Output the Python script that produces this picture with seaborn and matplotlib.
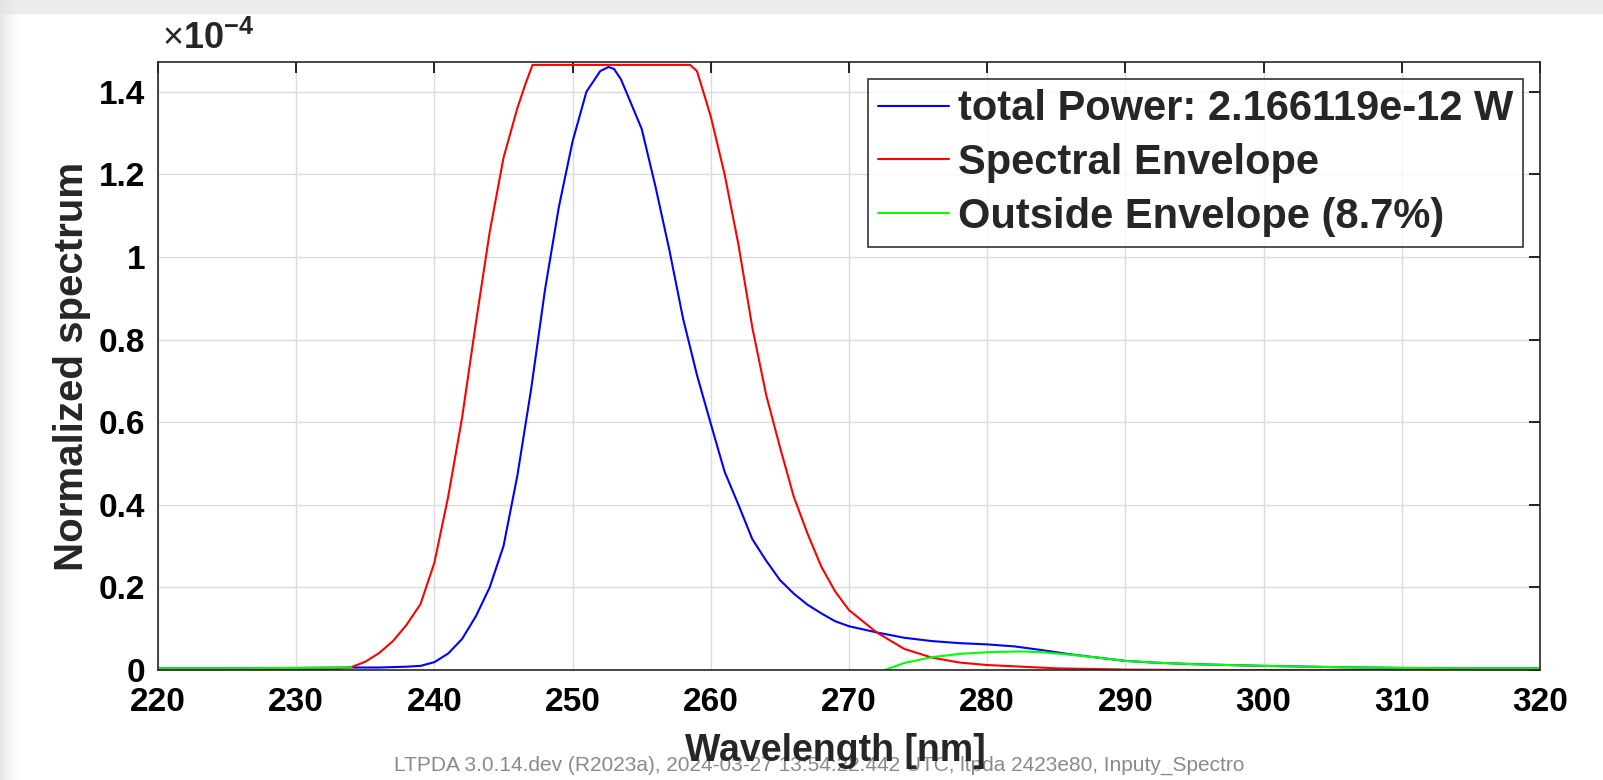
import matplotlib
matplotlib.use("Agg")
import matplotlib.pyplot as plt
import matplotlib.ticker as mticker
from matplotlib.patches import Rectangle
import seaborn as sns

# values, y in units of 1e-4
blue_x = [220, 225, 230, 234, 236, 238, 239, 240, 241, 242, 243, 244, 245, 246,
          247, 248, 249, 250, 251, 252, 252.6, 253, 253.5, 254, 255, 256, 257,
          258, 259, 260, 261, 262, 263, 264, 265, 266, 267, 268, 269, 270, 272,
          274, 276, 278, 280, 282, 284, 286, 288, 290, 292, 295, 300, 305, 310,
          315, 320]
blue_y = [0.004, 0.004, 0.005, 0.006, 0.006, 0.008, 0.010, 0.019, 0.04, 0.075,
          0.13, 0.20, 0.30, 0.47, 0.68, 0.92, 1.12, 1.28, 1.40, 1.45, 1.46, 1.455,
          1.43, 1.39, 1.31, 1.17, 1.017, 0.85, 0.714, 0.596, 0.48, 0.40, 0.317,
          0.265, 0.218, 0.185, 0.158, 0.137, 0.118, 0.106, 0.091, 0.078, 0.07,
          0.065, 0.062, 0.057, 0.048, 0.038, 0.030, 0.022, 0.018, 0.014, 0.010,
          0.007, 0.005, 0.004, 0.004]

env_x = [220, 230, 233, 234, 235, 236, 237, 238, 239, 240, 241, 242, 243, 244,
         245, 246, 246.6, 247.1, 258.5, 259, 260, 261, 262, 263, 264, 265, 266,
         267, 268, 269, 270, 272, 274, 276, 278, 280, 285, 290, 295, 320]
env_y = [0.0, 0.0, 0.002, 0.007, 0.02, 0.041, 0.07, 0.11, 0.16, 0.26, 0.42, 0.61,
         0.84, 1.06, 1.24, 1.36, 1.42, 1.465, 1.465, 1.45, 1.34, 1.20, 1.03, 0.83,
         0.667, 0.54, 0.42, 0.33, 0.25, 0.19, 0.145, 0.091, 0.051, 0.030, 0.018,
         0.012, 0.004, 0.001, 0.0, 0.0]

out_lo_x = [220, 225, 230, 234]
out_lo_y = [0.004, 0.004, 0.005, 0.006]
out_hi_x = [272.6, 274, 276, 278, 280, 282.5, 284, 286, 288, 290, 292, 295, 300,
            305, 310, 315, 320]
out_hi_y = [0.0, 0.017, 0.031, 0.039, 0.043, 0.045, 0.043, 0.037, 0.030, 0.022,
            0.018, 0.014, 0.010, 0.007, 0.005, 0.004, 0.004]

x_ticks = list(range(220, 321, 10))
y_ticks = [0, 0.2, 0.4, 0.6, 0.8, 1.0, 1.2, 1.4]

total_power = "2.166119e-12 W"
outside_pct = "8.7%"
footer = "LTPDA 3.0.14.dev (R2023a), 2024-03-27 13:54:22.442 UTC, ltpda 2423e80, Inputy_Spectro"

sns.set_style("white")
plt.rcParams["font.family"] = ["Liberation Sans", "DejaVu Sans"]
plt.rcParams["mathtext.fontset"] = "custom"
plt.rcParams["mathtext.rm"] = "Liberation Sans"
plt.rcParams["mathtext.bf"] = "Liberation Sans:bold"

fig = plt.figure(figsize=(16.03, 7.80), dpi=100)
ax = fig.add_axes([158 / 1603, 1 - 670 / 780, (1540 - 158) / 1603, (670 - 62) / 780])

# screenshot frame
fig.patches.append(Rectangle((0, 1 - 13 / 780), 1, 13 / 780, transform=fig.transFigure,
                             color="#ececec", zorder=-5))
for i, a in enumerate([0.9, 0.7, 0.5, 0.35, 0.2, 0.1]):
    fig.patches.append(Rectangle((i * 3 / 1603, 0), 3 / 1603, 1, transform=fig.transFigure,
                                 color="#e4e4e4", alpha=a, zorder=-5, lw=0))

sns.lineplot(x=blue_x, y=blue_y, color="#0000ff", lw=1.5, ax=ax,
             label=f"total Power: {total_power}")
sns.lineplot(x=env_x, y=env_y, color="#ff0000", lw=1.5, ax=ax,
             label="Spectral Envelope")
sns.lineplot(x=out_lo_x, y=out_lo_y, color="#00ff00", lw=1.5, ax=ax)
sns.lineplot(x=out_hi_x, y=out_hi_y, color="#00ff00", lw=1.5, ax=ax,
             label=f"Outside Envelope ({outside_pct})")

ax.set_xlim(220, 320)
ax.set_ylim(0, 1.472)
ax.set_xticks(x_ticks)
ax.set_yticks(y_ticks)
ax.yaxis.set_major_formatter(mticker.FuncFormatter(lambda v, p: f"{v:g}"))
ax.grid(True, color="#dcdcdc", lw=1.0)
ax.tick_params(direction="in", length=8, width=1.2, top=True, right=True,
               labelsize=24, colors="black")
ax.tick_params(axis="y", pad=9)
ax.tick_params(axis="x", pad=12)
for lab in ax.get_xticklabels() + ax.get_yticklabels():
    lab.set_fontweight("bold")
for s in ax.spines.values():
    s.set_color("#262626")
    s.set_linewidth(1.2)

ax.set_xlabel("Wavelength [nm]", fontsize=27, fontweight="bold", labelpad=11)
ax.xaxis.label.set_x(0.49)
ax.set_ylabel("Normalized spectrum", fontsize=29, fontweight="bold", labelpad=6)
ax.text(0.003, 1.008, r"$\times\mathbf{10^{-4}}$", transform=ax.transAxes,
        fontsize=26, ha="left", va="bottom")

leg = ax.legend(loc="upper right", fontsize=30, frameon=True, fancybox=False,
                edgecolor="black", handlelength=1.7, handletextpad=0.2,
                borderpad=0.25, labelspacing=0.33, borderaxespad=0.4)
leg.get_frame().set_linewidth(1.2)
for t in leg.get_texts():
    t.set_fontweight("bold")

fig.text(819 / 1603, 1 - 765 / 780, footer, ha="center", va="center", fontsize=15,
         color="#8a8a8a", zorder=-1)

fig.savefig("out.png", dpi=100)
